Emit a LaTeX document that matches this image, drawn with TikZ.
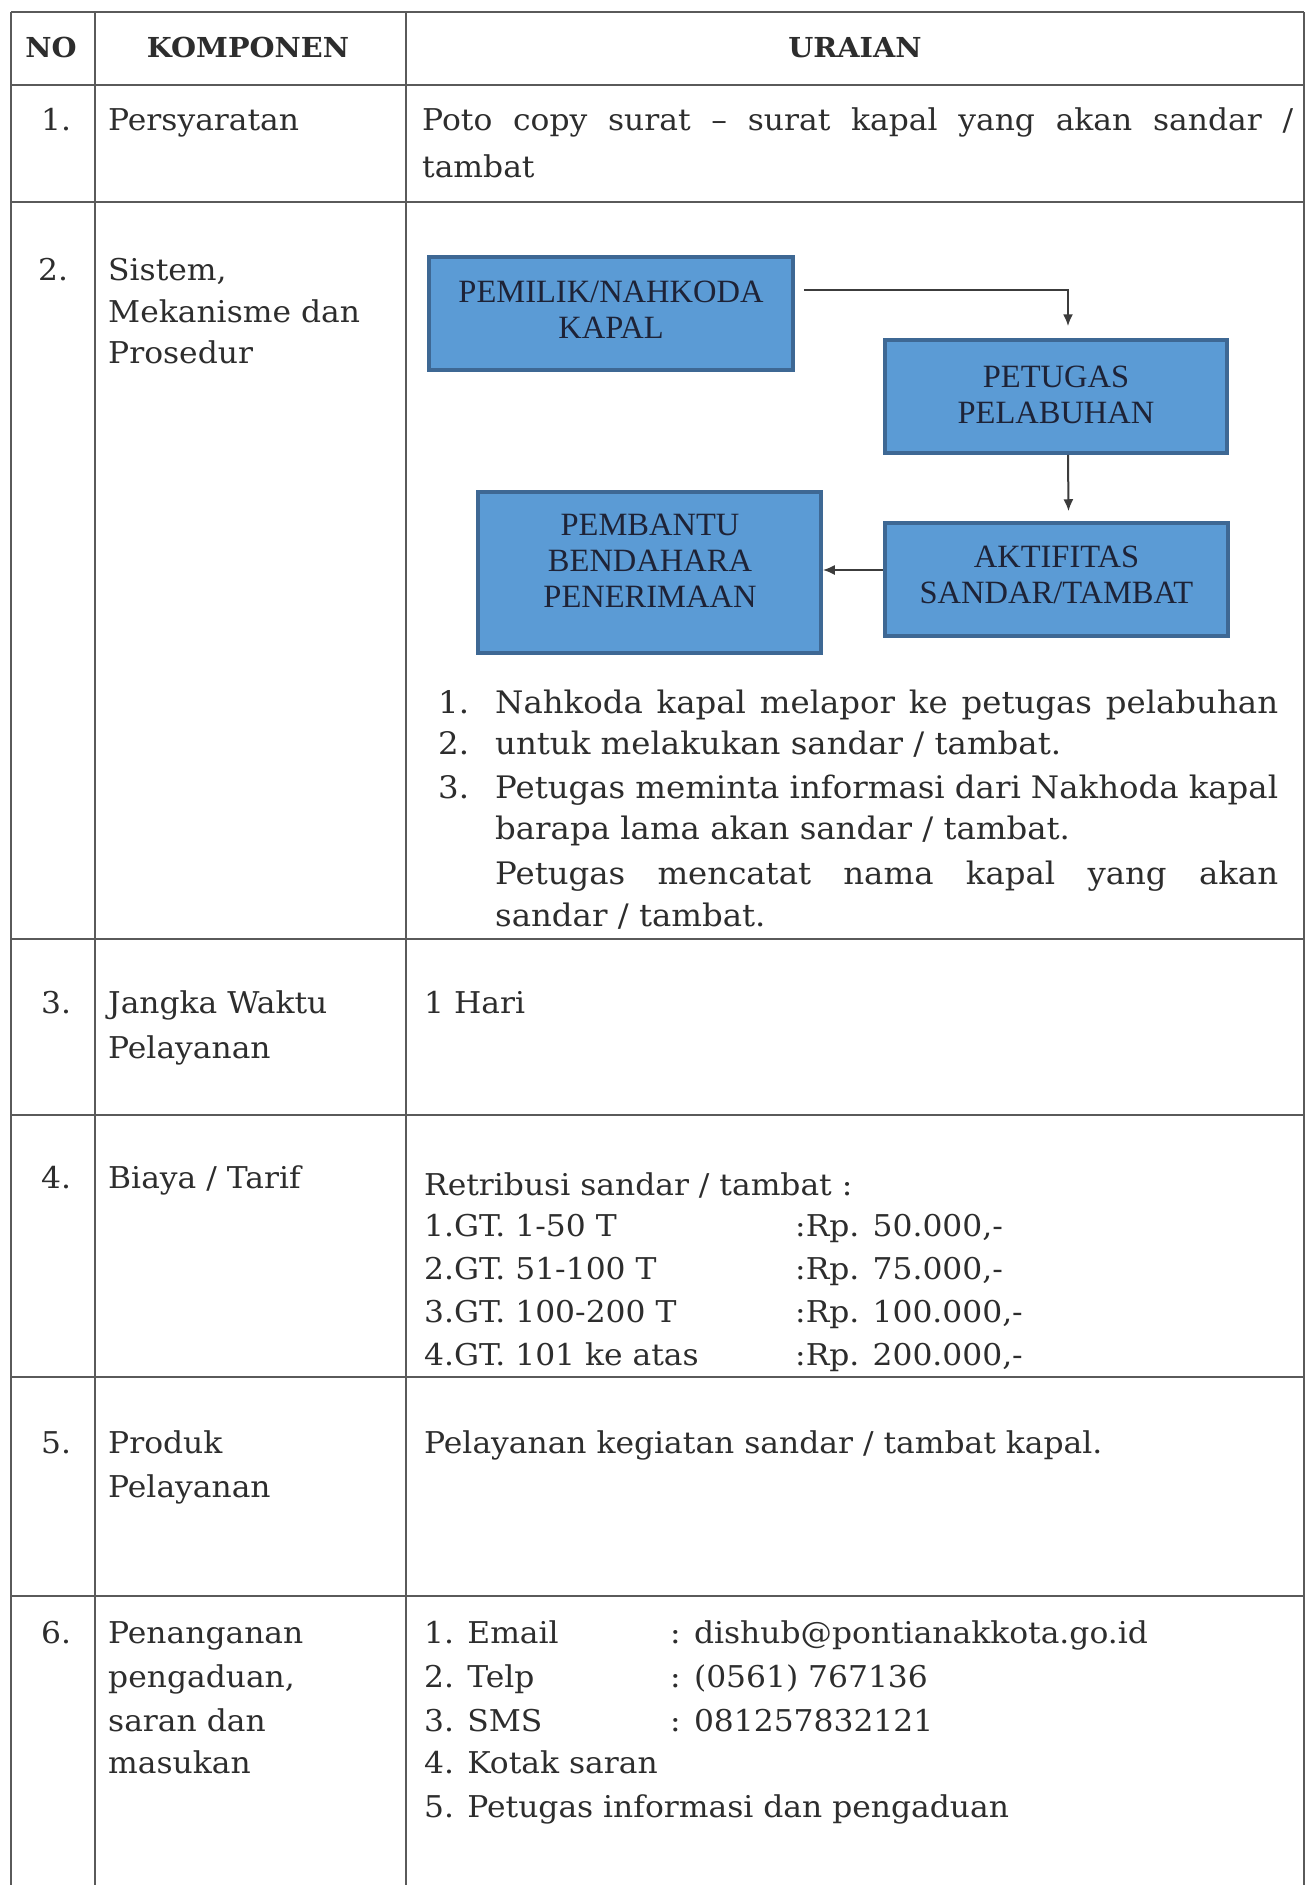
\documentclass[tikz,border=0pt]{standalone}
\usepackage{fontspec}
\setmainfont[FakeStretch=1.045]{DejaVu Serif}
\newfontfamily\boxfont{Liberation Serif}
\usetikzlibrary{arrows.meta,calc}

\definecolor{ink}{RGB}{45,45,45}
\definecolor{rulegray}{RGB}{90,90,90}
\definecolor{boxfill}{RGB}{91,155,213}
\definecolor{boxedge}{RGB}{62,104,148}
\definecolor{boxink}{RGB}{30,35,55}
\definecolor{arrowink}{RGB}{60,60,60}

\tikzset{
  gridline/.style={draw=rulegray, line width=2.2pt},
  body/.style={anchor=base west, inner sep=0pt, text=ink, font=\fontsize{30}{42}\selectfont},
  listtxt/.style={anchor=base west, inner sep=0pt, text=ink, font=\fontsize{31}{42}\selectfont},
  head/.style={anchor=base, inner sep=0pt, text=ink, font=\fontsize{27.5}{42}\selectfont\bfseries},
  flowbox/.style={draw=boxedge, fill=boxfill, line width=3.5pt, inner sep=0pt},
  boxtext/.style={align=center, text=boxink, inner sep=0pt, font=\boxfont\fontsize{32.5}{36}\selectfont},
  flow/.style={draw=arrowink, line width=2pt, -{Latex[length=12pt,width=10pt]}},
}

\begin{document}
\begin{tikzpicture}[x=1pt,y=-1pt]
  \useasboundingbox (0,0) rectangle (1307,1885);
  \fill[white] (0,0) rectangle (1307,1885);

  % table frame
  \foreach \xx in {11,95,406,1304} \draw[gridline] (\xx,12) -- (\xx,1885);
  \foreach \yy in {12,85,202,939,1115,1377,1596} \draw[gridline] (11,\yy) -- (1304,\yy);

  % header
  \node[head] (hNo) at (51,57) {NO};
  \node[head] (hKomp) at (248,57) {KOMPONEN};
  \node[head] (hUraian) at (855,57) {URAIAN};

  % row 1
  \node[body] (n1) at (41,130) {1.};
  \node[body] (k1) at (108,130) {Persyaratan};
  \node[body] (u1a) at (422,130) {\makebox[871pt][s]{Poto copy surat – surat kapal yang akan sandar /}};
  \node[body] (u1b) at (422,177) {tambat};

  % row 2
  \node[body] (n2) at (38,280) {2.};
  \node[body] (k2a) at (108,280) {Sistem,};
  \node[body] (k2b) at (108,322) {Mekanisme dan};
  \node[body] (k2c) at (108,363) {Prosedur};

  % flow chart
  \node[flowbox, minimum width=364pt, minimum height=113pt] (b1) at (611,313.5) {};
  \node[flowbox, minimum width=342pt, minimum height=113pt] (b2) at (1056,396.5) {};
  \node[flowbox, minimum width=343pt, minimum height=113pt] (b3) at (1056.5,579.5) {};
  \node[flowbox, minimum width=343pt, minimum height=161pt] (b4) at (649.5,572.5) {};
  \node[boxtext] (b1t) at (611,310) {PEMILIK/NAHKODA\\KAPAL};
  \node[boxtext] (b2t) at (1056,394.5) {PETUGAS\\PELABUHAN};
  \node[boxtext] (b3t) at (1056.5,575) {AKTIFITAS\\SANDAR/TAMBAT};
  \node[boxtext] (b4t) at (650,560.5) {PEMBANTU\\BENDAHARA\\PENERIMAAN};

  \coordinate (a1s) at ($(b1.east)+(9,-23.5)$);
  \draw[flow] (a1s) -| ($(b2.north)+(12,-12)$);
  \draw[flow] ($(b2.south)+(12,0)$) -- ($(b3.north)+(12,-10)$);
  \draw[flow] ($(b3.west)+(0,-9.5)$) -- ($(b4.east)+(0,-2.5)$);

  % steps (justified to a common right margin)
  \node[listtxt] (l1n) at (438,713) {1.};
  \node[listtxt] (l1) at (495,713) {\makebox[783pt][s]{Nahkoda kapal melapor ke petugas pelabuhan}};
  \node[listtxt] (l2n) at (438,754) {2.};
  \node[listtxt] (l2) at (495,754) {untuk melakukan sandar / tambat.};
  \node[listtxt] (l3n) at (438,798) {3.};
  \node[listtxt] (l3) at (495,798) {\makebox[783pt][s]{Petugas meminta informasi dari Nakhoda kapal}};
  \node[listtxt] (l4) at (495,839) {barapa lama akan sandar / tambat.};
  \node[listtxt] (l5) at (495,884) {\makebox[783pt][s]{Petugas mencatat nama kapal yang akan}};
  \node[listtxt] (l6) at (495,926) {sandar / tambat.};

  % row 3
  \node[body] (n3) at (41,1013) {3.};
  \node[body] (k3a) at (108,1013) {Jangka Waktu};
  \node[body] (k3b) at (108,1058) {Pelayanan};
  \node[body] (u3) at (424,1013) {1 Hari};

  % row 4
  \node[body] (n4) at (41,1188) {4.};
  \node[body] (k4) at (108,1188) {Biaya / Tarif};
  \node[body] (u4) at (424,1195) {Retribusi sandar / tambat :};
  \node[body] (g1) at (424,1236) {1.GT. 1-50 T};
  \node[body] (r1) at (795,1236) {:Rp. 50.000,-};
  \node[body] (g2) at (424,1279) {2.GT. 51-100 T};
  \node[body] (r2) at (795,1279) {:Rp. 75.000,-};
  \node[body] (g3) at (424,1322) {3.GT. 100-200 T};
  \node[body] (r3) at (795,1322) {:Rp. 100.000,-};
  \node[body] (g4) at (424,1365) {4.GT. 101 ke atas};
  \node[body] (r4) at (795,1365) {:Rp. 200.000,-};

  % row 5
  \node[body] (n5) at (41,1453) {5.};
  \node[body] (k5a) at (108,1453) {Produk};
  \node[body] (k5b) at (108,1497) {Pelayanan};
  \node[body] (u5) at (424,1453) {Pelayanan kegiatan sandar / tambat kapal.};

  % row 6
  \node[body] (n6) at (41,1643) {6.};
  \node[body] (k6a) at (108,1643) {Penanganan};
  \node[body] (k6b) at (108,1687) {pengaduan,};
  \node[body] (k6c) at (108,1731) {saran dan};
  \node[body] (k6d) at (108,1773) {masukan};
  \node[body] (c1) at (424,1643) {1. Email};
  \node[body] (c1v) at (670,1643) {: dishub@pontianakkota.go.id};
  \node[body] (c2) at (424,1687) {2. Telp};
  \node[body] (c2v) at (670,1687) {: (0561) 767136};
  \node[body] (c3) at (424,1731) {3. SMS};
  \node[body] (c3v) at (670,1731) {: 081257832121};
  \node[body] (c4) at (424,1773) {4. Kotak saran};
  \node[body] (c5) at (424,1817) {5. Petugas informasi dan pengaduan};
\end{tikzpicture}
\end{document}
